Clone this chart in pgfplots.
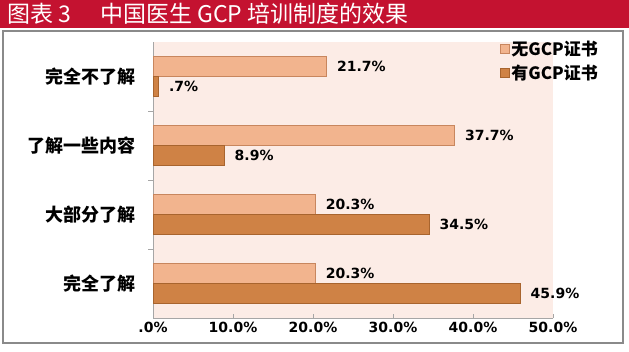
\documentclass[border=0pt]{standalone}
\usepackage{pgfplots}
\pgfplotsset{compat=1.18}
\usepackage{fontspec}
\setmainfont{DejaVu Sans}
\newfontfamily\cjk{Noto Sans CJK SC}
\definecolor{titlered}{HTML}{C41230}
\definecolor{bgpink}{HTML}{FCECE6}
\definecolor{lightbar}{HTML}{F2B48E}
\definecolor{lightedge}{HTML}{C8865E}
\definecolor{darkbar}{HTML}{CF8245}
\definecolor{darkedge}{HTML}{A8642E}
\definecolor{panelgray}{HTML}{8A8A8A}
\begin{document}
\begin{tikzpicture}[x=1pt,y=1pt]
\path[use as bounding box] (0,0) rectangle (629,351);
\fill[white] (0,0) rectangle (629,351);
\fill[titlered] (0,323) rectangle (629,351);
\node[anchor=west,text=white,inner sep=0pt] at (7,337) {\cjk\fontsize{23}{23}\selectfont 图表 3};
\node[anchor=west,text=white,inner sep=0pt] at (100,337) {\cjk\fontsize{23}{23}\selectfont 中国医生 GCP 培训制度的效果};
\draw[panelgray,line width=1.5pt] (3,8) rectangle (623,320);
\begin{axis}[
  at={(153pt,33pt)}, anchor=south west,
  scale only axis, width=400pt, height=276pt,
  xmin=0, xmax=50, ymin=-0.5, ymax=3.5,
  axis background/.style={fill=bgpink},
  axis x line*=bottom, axis y line*=left,
  axis line style={draw=gray!70,-},
  xtick={0,10,20,30,40,50},
  xticklabels={.0\%,10.0\%,20.0\%,30.0\%,40.0\%,50.0\%},
  xtick align=inside,
  ytick={0,1,2,3},
  yticklabels={完全了解,大部分了解,了解一些内容,完全不了解},
  major y tick style={draw=none},
  minor ytick={0.5,1.5,2.5},
  minor y tick style={draw=gray!70},
  minor tick length=5pt,
  ytick align=outside,
  major x tick style={draw=gray!70},
  major tick length=4pt,
  x tick label style={font=\fontsize{14}{14}\selectfont\bfseries, yshift=-1pt},
  y tick label style={font=\cjk\fontsize{18}{18}\selectfont\bfseries, xshift=-10pt},
  xbar, bar width=20pt,
  point meta=explicit symbolic,
  nodes near coords,
  every node near coord/.append style={anchor=west, xshift=7pt, font=\fontsize{14}{14}\selectfont\bfseries, text=black},
  legend style={at={(1.125,1.02)}, anchor=north east, draw=none, fill=none,
    font=\cjk\fontsize{17}{17}\selectfont\bfseries, row sep=4pt,
    /tikz/every even column/.append style={column sep=2pt}},
  legend image code/.code={\draw[#1] (0pt,-4.5pt) rectangle (9pt,4.5pt);},
  clip=false,
]
\addplot[bar shift=10pt, fill=lightbar, draw=lightedge] coordinates {
  (20.3,0) [20.3\%]
  (20.3,1) [20.3\%]
  (37.7,2) [37.7\%]
  (21.7,3) [21.7\%]
};
\addplot[bar shift=-10pt, fill=darkbar, draw=darkedge] coordinates {
  (45.9,0) [45.9\%]
  (34.5,1) [34.5\%]
  (8.9,2) [8.9\%]
  (0.7,3) [.7\%]
};
\legend{无GCP证书,有GCP证书}
\end{axis}
\end{tikzpicture}
\end{document}
